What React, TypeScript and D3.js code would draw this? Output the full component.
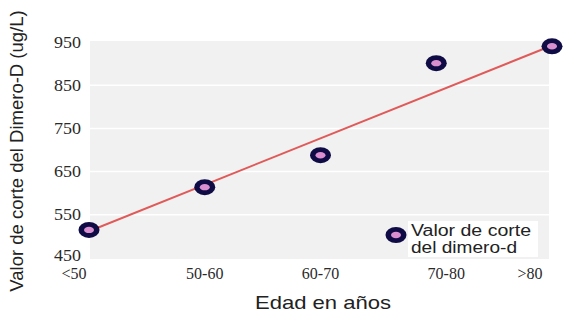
import React from 'react';
import * as d3 from 'd3';

const ageGroups = ['<50', '50-60', '60-70', '70-80', '>80'];
const cutoffValues = [515, 614, 688, 901, 940];
const trendValues = [512, 942]; // red line, first to last group
const yTicks = [450, 550, 650, 750, 850, 950];

export default function App() {
  const width = 569;
  const height = 316;

  const x = d3.scalePoint<string>().domain(ageGroups).range([89, 552]);
  const y = d3.scaleLinear().domain([450, 950]).range([258, 42]);

  const plotLeft = x(ageGroups[0])! + 1;
  const plotRight = x(ageGroups[ageGroups.length - 1])! - 3;

  const trend = d3.line<number>()
    .x((_, i) => x(ageGroups[i === 0 ? 0 : ageGroups.length - 1])!)
    .y(d => y(d));

  const tickFont = '"Liberation Serif", "Times New Roman", serif';
  const sans = '"Liberation Sans", Arial, sans-serif';

  const Marker = ({ cx, cy }: { cx: number; cy: number }) => (
    <g>
      <ellipse cx={cx} cy={cy} rx={10.5} ry={8} fill="#0f0c45" />
      <ellipse cx={cx} cy={cy} rx={5} ry={3.2} fill="#d98fd0" />
    </g>
  );

  // small nudges so the x labels sit where the reference prints them
  const labelShift = [-15, 0, 0, 10, -22];

  return (
    <svg
      width={width}
      height={height}
      style={{ position: 'absolute', left: 0, top: 0, background: '#fff' }}
    >
      {/* plot background */}
      <rect
        x={plotLeft}
        y={y(950) - 1}
        width={plotRight - plotLeft}
        height={y(450) - y(950) + 2}
        fill="#f1f1f1"
      />
      {/* gridlines */}
      {yTicks.slice(1, -1).map(t => (
        <line key={t} x1={plotLeft} x2={plotRight} y1={y(t)} y2={y(t)} stroke="#fff" strokeWidth={1.5} />
      ))}

      {/* y tick labels */}
      {yTicks.map(t => (
        <text
          key={t}
          x={81}
          y={t === 450 ? y(t) - 3 : y(t)}
          dy="0.35em"
          textAnchor="end"
          fontFamily={tickFont}
          fontSize={16}
          textLength={27}
          lengthAdjust="spacingAndGlyphs"
          fill="#2a2a2a"
        >
          {t}
        </text>
      ))}

      {/* x tick labels */}
      {ageGroups.map((g, i) => (
        <text
          key={g}
          x={x(g)! + labelShift[i]}
          y={273}
          dy="0.35em"
          textAnchor="middle"
          fontFamily={tickFont}
          fontSize={16}
          fill="#2a2a2a"
        >
          {g}
        </text>
      ))}

      {/* trend line */}
      <path d={trend(trendValues) || ''} fill="none" stroke="#e05a5a" strokeWidth={2} />

      {/* points */}
      {cutoffValues.map((v, i) => (
        <Marker key={i} cx={x(ageGroups[i])!} cy={y(v)} />
      ))}

      {/* legend */}
      <rect x={408} y={221} width={130} height={36} fill="#fff" />
      <Marker cx={396} cy={235} />
      <text x={411} y={236} fontFamily={sans} fontSize={16} textLength={120} lengthAdjust="spacingAndGlyphs" fill="#222">
        Valor de corte
      </text>
      <text x={411} y={253} fontFamily={sans} fontSize={16} textLength={106} lengthAdjust="spacingAndGlyphs" fill="#222">
        del dimero-d
      </text>

      {/* axis titles */}
      <text
        transform={`translate(23,151) rotate(-90)`}
        textAnchor="middle"
        fontFamily={sans}
        fontSize={18.5}
        fill="#222"
      >
        Valor de corte del Dimero-D (ug/L)
      </text>
      <text
        x={323}
        y={309}
        textAnchor="middle"
        fontFamily={sans}
        fontSize={19}
        textLength={136}
        lengthAdjust="spacingAndGlyphs"
        fill="#222"
      >
        Edad en años
      </text>
    </svg>
  );
}
